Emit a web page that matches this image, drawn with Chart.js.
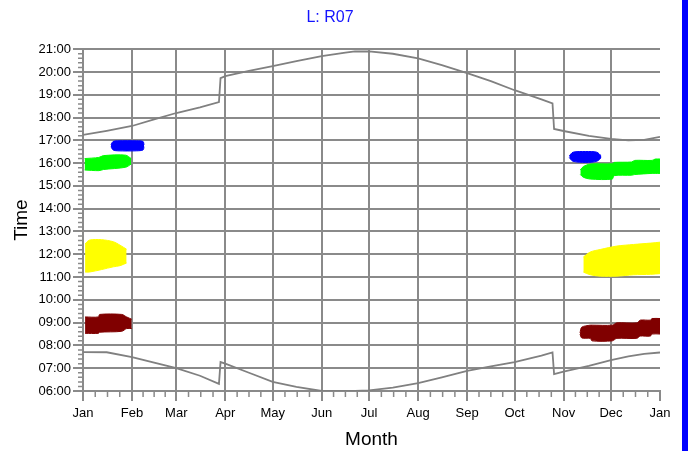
<!DOCTYPE html>
<html>
<head>
<meta charset="utf-8">
<script src="https://cdn.jsdelivr.net/npm/chart.js@4"></script>
<style>
body{margin:0;background:#fff;}
#wrap{position:relative;width:689px;height:451px;}
#bar{position:absolute;left:682px;top:0;width:6px;height:451px;background:#0000ff;}
</style>
</head>
<body>
<div id="wrap">
<canvas id="mychart"></canvas>
<div id="bar"></div>
</div>
<script>
// day of year (0 = 1 Jan), times in decimal hours
var monthStarts = [0,31,59,90,120,151,181,212,243,273,304,334,365];
var monthLabels = ["Jan","Feb","Mar","Apr","May","Jun","Jul","Aug","Sep","Oct","Nov","Dec","Jan"];
var hourLabels = ["06:00","07:00","08:00","09:00","10:00","11:00","12:00","13:00","14:00","15:00","16:00","17:00","18:00","19:00","20:00","21:00"];

var sunDays    = [0,15,31,45,59,74,86,87,90,105,120,135,151,166,172,181,196,212,227,243,258,273,290,297,298,304,320,334,345,355,365];
var sunsetTimes  = [17.24,17.42,17.63,17.92,18.2,18.45,18.68,19.73,19.82,20.05,20.26,20.48,20.7,20.85,20.9,20.9,20.8,20.6,20.3,19.95,19.6,19.2,18.8,18.62,17.5,17.41,17.2,17.06,17.0,17.02,17.15];
var sunriseTimes = [7.71,7.7,7.49,7.25,7.0,6.67,6.31,7.27,7.2,6.8,6.4,6.18,6.0,6.0,6.0,6.03,6.15,6.35,6.6,6.88,7.08,7.27,7.55,7.69,6.74,6.85,7.1,7.36,7.52,7.63,7.69];

// blobs: days, upper edge, lower edge
var blueJanDays = [17.7,19,22,34,38,38.6];
var blueJanHi   = [16.8,16.95,16.98,16.98,16.95,16.8];
var blueJanLo   = [16.72,16.58,16.54,16.54,16.58,16.72];

var greenJanDays = [1,10,13,27,30.5];
var greenJanHi   = [16.2,16.25,16.33,16.35,16.2];
var greenJanLo   = [15.7,15.67,15.72,15.82,15.96];

var yellowJanDays = [1.3,4,11.8,19.2,23.4,27.6];
var yellowJanHi   = [12.45,12.62,12.64,12.55,12.4,12.22];
var yellowJanLo   = [11.22,11.22,11.33,11.45,11.5,11.62];

var redJanDays = [1.3,9.7,10.5,24.5,27.6,30.8];
var redJanHi   = [9.25,9.25,9.36,9.36,9.25,9.15];
var redJanLo   = [8.53,8.53,8.58,8.62,8.74,8.74];

var blueNovDays = [307.6,310,318,325,327.8];
var blueNovHi   = [16.32,16.48,16.51,16.48,16.32];
var blueNovLo   = [16.24,16.08,16.03,16.08,16.24];

var greenDecDays = [314.6,316.5,321,334.8,336,347,349,360,362,365];
var greenDecHi   = [15.7,15.85,15.96,15.97,16.03,16.05,16.12,16.12,16.18,16.18];
var greenDecLo   = [15.5,15.38,15.3,15.3,15.45,15.47,15.5,15.55,15.55,15.55];

var yellowDecDays = [316.5,320.9,327.2,337.7,348.3,358.9,365];
var yellowDecHi   = [11.88,12.1,12.21,12.36,12.43,12.49,12.53];
var yellowDecLo   = [11.22,11.1,11.04,11.04,11.1,11.12,11.15];

var redDecDays = [314.4,315.5,320.9,322,334.8,337.7,350.3,352.5,358.9,360,365];
var redDecHi   = [8.55,8.8,8.89,8.89,8.89,8.99,8.99,9.11,9.11,9.18,9.18];
var redDecLo   = [8.5,8.33,8.31,8.2,8.2,8.31,8.31,8.41,8.41,8.5,8.5];

function pts(xs, ys){
    var out = [];
    for(var i=0;i<xs.length;i++){ out.push({x:xs[i], y:ys[i]}); }
    return out;
}

function blob(days, hi, lo, color){
    return [
        {data:pts(days,hi), borderColor:color, backgroundColor:color, borderWidth:1, pointRadius:0, showLine:true, tension:0.3, fill:'+1'},
        {data:pts(days,lo), borderColor:color, backgroundColor:color, borderWidth:1, pointRadius:0, showLine:true, tension:0.3, fill:false}
    ];
}

var sunLine = function(ys){
    return {data:pts(sunDays,ys), borderColor:'#808080', borderWidth:1.8, pointRadius:0, showLine:true, fill:false};
};

var datasets = [].concat(
    blob(blueJanDays, blueJanHi, blueJanLo, '#0000ff'),
    blob(greenJanDays, greenJanHi, greenJanLo, '#00ff00'),
    blob(yellowJanDays, yellowJanHi, yellowJanLo, '#ffff00'),
    blob(redJanDays, redJanHi, redJanLo, '#800000'),
    blob(blueNovDays, blueNovHi, blueNovLo, '#0000ff'),
    blob(greenDecDays, greenDecHi, greenDecLo, '#00ff00'),
    blob(yellowDecDays, yellowDecHi, yellowDecLo, '#ffff00'),
    blob(redDecDays, redDecHi, redDecLo, '#800000'),
    [sunLine(sunsetTimes), sunLine(sunriseTimes)]
);

var gridColor = '#8a8a8a';

var minorTicks = {
    id:'minorTicks',
    afterDraw:function(chart){
        var ctx = chart.ctx, xs = chart.scales.x, ys = chart.scales.y, area = chart.chartArea;
        ctx.save();
        ctx.strokeStyle = gridColor;
        ctx.lineWidth = 1.5;
        ctx.beginPath();
        for(var i=0;i<12;i++){
            var a = monthStarts[i], b = monthStarts[i+1];
            for(var q=1;q<4;q++){
                var px = xs.getPixelForValue(a+(b-a)*q/4);
                ctx.moveTo(px, area.bottom);
                ctx.lineTo(px, area.bottom+6);
            }
        }
        for(var h=6;h<21;h++){
            for(var m=1;m<5;m++){
                var py = ys.getPixelForValue(h+m/5);
                ctx.moveTo(area.left-5, py);
                ctx.lineTo(area.left, py);
            }
        }
        ctx.stroke();
        ctx.restore();
    }
};

Chart.defaults.font.family = "'Liberation Sans', Arial, sans-serif";
Chart.defaults.color = '#000';

var mychart = document.getElementById("mychart").getContext('2d');

var chart = new Chart(mychart,{
    type:'scatter',
    data:{datasets:datasets},
    plugins:[minorTicks],
    options:{
        responsive:true,
        maintainAspectRatio:false,
        animation:false,
        layout:{padding:{top:8,right:29,left:0,bottom:0}},
        plugins:{
            legend:{display:false},
            tooltip:{enabled:false},
            title:{display:true, text:'L: R07', color:'#1414ff', font:{size:16, weight:'normal'}, padding:{top:0,bottom:22}}
        },
        scales:{
            x:{
                type:'linear', min:0, max:365,
                afterBuildTicks:function(axis){
                    axis.ticks = monthStarts.map(function(v){ return {value:v}; });
                },
                afterFit:function(scale){ scale.height = 60; },
                ticks:{
                    autoSkip:false, maxRotation:0, padding:5, font:{size:13},
                    callback:function(v, i){ return monthLabels[i]; }
                },
                grid:{
                    color:function(c){ return (c.tick && c.tick.value === 365) ? 'rgba(0,0,0,0)' : gridColor; },
                    tickColor:gridColor, lineWidth:2, tickLength:10
                },
                border:{color:gridColor, width:2},
                title:{display:true, text:'Month', font:{size:19}, padding:{top:2,bottom:0}}
            },
            y:{
                type:'linear', min:6, max:21,
                afterBuildTicks:function(axis){
                    axis.ticks = hourLabels.map(function(l, i){ return {value:6+i}; });
                },
                afterFit:function(scale){ scale.width = 83; },
                ticks:{
                    padding:2, font:{size:13},
                    callback:function(v, i){ return hourLabels[i]; }
                },
                grid:{color:gridColor, tickColor:gridColor, lineWidth:2, tickLength:10},
                border:{color:gridColor, width:2},
                title:{display:true, text:'Time', font:{size:19}, padding:{top:10,bottom:0}}
            }
        }
    }
});
</script>
</body>
</html>
